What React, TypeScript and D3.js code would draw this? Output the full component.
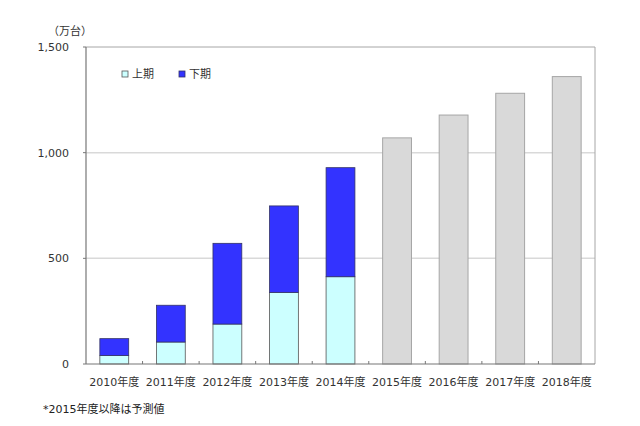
import React, { useEffect, useRef } from "react";
import * as d3 from "d3";

const years = ["2010年度", "2011年度", "2012年度", "2013年度", "2014年度", "2015年度", "2016年度", "2017年度", "2018年度"];
// 上期 / 下期 for actual years, total for forecast years
const firstHalf = [40, 104, 189, 339, 413];
const secondHalf = [80, 174, 382, 409, 516];
const forecast = [1070, 1178, 1281, 1360];
const yTicks = [0, 500, 1000, 1500];

const App: React.FC = () => {
  const svgRef = useRef<SVGSVGElement>(null);

  useEffect(() => {
    const width = 640;
    const height = 426;
    const left = 86;
    const right = 595;
    const top = 47;
    const bottom = 364;
    const font = "'DejaVu Sans', 'Noto Sans CJK JP', sans-serif";

    const svg = d3.select(svgRef.current).attr("width", width).attr("height", height);
    svg.selectAll("*").remove();

    svg.append("rect").attr("width", width).attr("height", height).attr("fill", "#fff");

    const x = d3.scaleBand().domain(years).range([left, right]).paddingInner(0.49).paddingOuter(0.245);
    const band = d3.scaleBand().domain(years).range([left, right]);
    const y = d3.scaleLinear().domain([0, 1500]).range([bottom, top]);

    // gridlines
    svg
      .selectAll(".grid")
      .data([500, 1000])
      .enter()
      .append("line")
      .attr("x1", left)
      .attr("x2", right)
      .attr("y1", d => y(d))
      .attr("y2", d => y(d))
      .attr("stroke", "#d9d9d9")
      .attr("stroke-width", 1.5);

    // frame top / right
    svg
      .append("path")
      .attr("d", `M${left},${y(1500)}H${right}V${bottom}`)
      .attr("fill", "none")
      .attr("stroke", "#a6a6a6")
      .attr("stroke-width", 1);

    const stacked = years.slice(0, firstHalf.length).map((yr, i) => ({ yr, a: firstHalf[i], b: secondHalf[i] }));

    svg
      .selectAll(".lower")
      .data(stacked)
      .enter()
      .append("rect")
      .attr("x", d => x(d.yr)!)
      .attr("width", x.bandwidth())
      .attr("y", d => y(d.a))
      .attr("height", d => y(0) - y(d.a))
      .attr("fill", "#ccffff")
      .attr("stroke", "#555")
      .attr("stroke-width", 0.8);

    svg
      .selectAll(".upper")
      .data(stacked)
      .enter()
      .append("rect")
      .attr("x", d => x(d.yr)!)
      .attr("width", x.bandwidth())
      .attr("y", d => y(d.a + d.b))
      .attr("height", d => y(d.a) - y(d.a + d.b))
      .attr("fill", "#3333ff")
      .attr("stroke", "#333366")
      .attr("stroke-width", 0.8);

    const fc = years.slice(firstHalf.length).map((yr, i) => ({ yr, v: forecast[i] }));
    svg
      .selectAll(".forecast")
      .data(fc)
      .enter()
      .append("rect")
      .attr("x", d => x(d.yr)!)
      .attr("width", x.bandwidth())
      .attr("y", d => y(d.v))
      .attr("height", d => y(0) - y(d.v))
      .attr("fill", "#d9d9d9")
      .attr("stroke", "#a6a6a6")
      .attr("stroke-width", 1);

    // axes
    svg
      .append("line")
      .attr("x1", left)
      .attr("x2", left)
      .attr("y1", top)
      .attr("y2", bottom)
      .attr("stroke", "#777")
      .attr("stroke-width", 1.2);
    svg
      .append("line")
      .attr("x1", left)
      .attr("x2", right)
      .attr("y1", bottom)
      .attr("y2", bottom)
      .attr("stroke", "#777")
      .attr("stroke-width", 1.2);

    svg
      .selectAll(".ytick")
      .data(yTicks)
      .enter()
      .append("line")
      .attr("x1", left - 3)
      .attr("x2", left)
      .attr("y1", d => y(d))
      .attr("y2", d => y(d))
      .attr("stroke", "#777");

    svg
      .selectAll(".xtick")
      .data(years.slice(1))
      .enter()
      .append("line")
      .attr("x1", d => band(d)!)
      .attr("x2", d => band(d)!)
      .attr("y1", bottom - 3)
      .attr("y2", bottom)
      .attr("stroke", "#777");

    svg
      .selectAll(".ylabel")
      .data(yTicks)
      .enter()
      .append("text")
      .attr("x", 69)
      .attr("y", d => y(d))
      .attr("dy", "0.35em")
      .attr("text-anchor", "end")
      .style("font-family", font)
      .style("font-size", "11px")
      .attr("fill", "#333")
      .text(d => d3.format(",")(d));

    svg
      .selectAll(".xlabel")
      .data(years)
      .enter()
      .append("text")
      .attr("x", d => band(d)! + band.bandwidth() / 2)
      .attr("y", 386)
      .attr("text-anchor", "middle")
      .style("font-family", font)
      .style("font-size", "11px")
      .attr("fill", "#333")
      .text(d => d);

    svg
      .append("text")
      .attr("x", 48)
      .attr("y", 35)
      .style("font-family", font)
      .style("font-size", "11px")
      .attr("fill", "#333")
      .text("（万台）");

    svg
      .append("text")
      .attr("x", 43)
      .attr("y", 413)
      .style("font-family", font)
      .style("font-size", "11px")
      .attr("fill", "#222")
      .text("*2015年度以降は予測値");

    // legend
    const legend = [
      { label: "上期", fill: "#ccffff", stroke: "#555", x: 122 },
      { label: "下期", fill: "#3333ff", stroke: "#333366", x: 179 },
    ];
    const lg = svg
      .selectAll(".legend")
      .data(legend)
      .enter()
      .append("g")
      .attr("transform", d => `translate(${d.x}, 71)`);
    lg.append("rect")
      .attr("width", 6)
      .attr("height", 6)
      .attr("fill", d => d.fill)
      .attr("stroke", d => d.stroke)
      .attr("stroke-width", 0.8);
    lg.append("text")
      .attr("x", 10)
      .attr("y", 3)
      .attr("dy", "0.35em")
      .style("font-family", font)
      .style("font-size", "11px")
      .attr("fill", "#333")
      .text(d => d.label);
  }, []);

  return (
    <div>
      <svg ref={svgRef} style={{ position: "absolute", top: 0, left: 0 }}></svg>
    </div>
  );
};

export default App;
